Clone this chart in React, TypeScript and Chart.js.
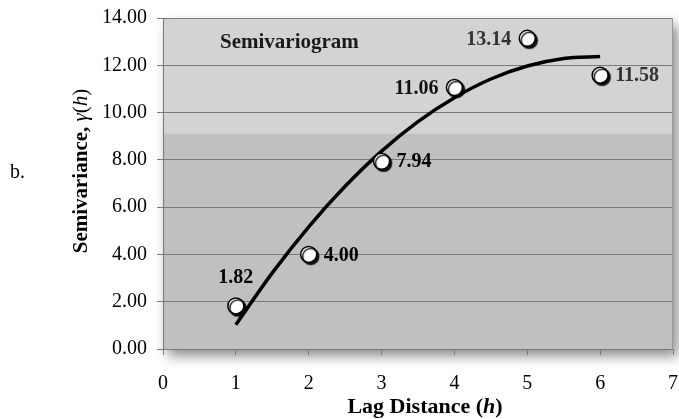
import React, { useEffect, useRef } from "react";
import { Chart, registerables } from "chart.js";

Chart.register(...registerables);

// ---- data ----
const lagDistance = [1, 2, 3, 4, 5, 6];
const semivariance = [1.82, 4.0, 7.94, 11.06, 13.14, 11.58];
const labelSide = ["top", "right", "right", "left", "left", "right"];
const labelColor = ["#000000", "#000000", "#000000", "#111111", "#333333", "#333333"];

// fitted trend curve
const trendLag = [1, 1.5, 2, 2.5, 3, 3.5, 4, 4.5, 5, 5.5, 6];
const trendValue = [1.03, 3.22, 5.17, 6.88, 8.37, 9.62, 10.63, 11.42, 11.97, 12.29, 12.37];

const xMin = 0;
const xMax = 7;
const xStep = 1;
const yMin = 0;
const yMax = 14;
const yStep = 2;
const lightBandFrom = 9.1;

const SERIF = "'Liberation Serif', 'Times New Roman', serif";

function drawSegments(
  ctx: CanvasRenderingContext2D,
  segs: { t: string; f: string }[],
  cx: number,
  y: number
) {
  let total = 0;
  const widths = segs.map((s) => {
    ctx.font = s.f;
    const w = ctx.measureText(s.t).width;
    total += w;
    return w;
  });
  let x = cx - total / 2;
  segs.forEach((s, i) => {
    ctx.font = s.f;
    ctx.fillText(s.t, x, y);
    x += widths[i];
  });
}

const decor = {
  id: "decor",
  beforeDraw(chart: any) {
    const { ctx, chartArea: a, scales } = chart;
    ctx.save();
    ctx.shadowColor = "rgba(0,0,0,0.45)";
    ctx.shadowBlur = 12;
    ctx.shadowOffsetX = 5;
    ctx.shadowOffsetY = 7;
    ctx.fillStyle = "#c0c0c0";
    ctx.fillRect(a.left, a.top, a.right - a.left, a.bottom - a.top);
    ctx.restore();
    const yb = scales.y.getPixelForValue(lightBandFrom);
    ctx.save();
    ctx.fillStyle = "#d3d3d3";
    ctx.fillRect(a.left, a.top, a.right - a.left, yb - a.top);
    ctx.restore();
  },
  beforeDatasetDraw(chart: any, args: any) {
    if (args.index === 0) {
      const ctx = chart.ctx;
      ctx.save();
      ctx.shadowColor = "rgba(0,0,0,0.9)";
      ctx.shadowBlur = 1;
      ctx.shadowOffsetX = 2;
      ctx.shadowOffsetY = 2;
    }
  },
  afterDatasetDraw(chart: any, args: any) {
    if (args.index === 0) chart.ctx.restore();
  },
  afterDraw(chart: any) {
    const { ctx, chartArea: a, scales } = chart;
    ctx.save();
    // right border of plot area
    ctx.strokeStyle = "#9a9a9a";
    ctx.lineWidth = 1;
    ctx.beginPath();
    ctx.moveTo(Math.round(a.right) - 0.5, a.top);
    ctx.lineTo(Math.round(a.right) - 0.5, a.bottom);
    ctx.stroke();

    // data labels
    ctx.font = `bold 20px ${SERIF}`;
    ctx.textBaseline = "middle";
    lagDistance.forEach((lx, i) => {
      const px = scales.x.getPixelForValue(lx);
      const py = scales.y.getPixelForValue(semivariance[i]);
      const txt = semivariance[i].toFixed(2);
      ctx.fillStyle = labelColor[i];
      if (labelSide[i] === "top") {
        ctx.textAlign = "center";
        ctx.fillText(txt, px, py - 28);
      } else if (labelSide[i] === "right") {
        ctx.textAlign = "left";
        ctx.fillText(txt, px + 15, py + 1);
      } else {
        ctx.textAlign = "right";
        ctx.fillText(txt, px - 16, py + 1);
      }
    });

    // inner title
    ctx.textAlign = "left";
    ctx.textBaseline = "alphabetic";
    ctx.fillStyle = "#1a1a1a";
    ctx.font = `bold 21px ${SERIF}`;
    ctx.fillText("Semivariogram", a.left + 57, 48);

    // "b."
    ctx.fillStyle = "#000";
    ctx.font = `20px ${SERIF}`;
    ctx.fillText("b.", 10, 178);

    // x axis title
    ctx.fillStyle = "#000";
    drawSegments(
      ctx,
      [
        { t: "Lag Distance (", f: `bold 22px ${SERIF}` },
        { t: "h", f: `italic bold 22px ${SERIF}` },
        { t: ")", f: `bold 22px ${SERIF}` },
      ],
      425,
      413
    );

    // y axis title
    ctx.translate(87, 171);
    ctx.rotate(-Math.PI / 2);
    drawSegments(
      ctx,
      [
        { t: "Semivariance, ", f: `bold 21px ${SERIF}` },
        { t: "γ", f: `italic 21px ${SERIF}` },
        { t: "(", f: `21px ${SERIF}` },
        { t: "h", f: `italic 21px ${SERIF}` },
        { t: ")", f: `21px ${SERIF}` },
      ],
      0,
      0
    );
    ctx.restore();
  },
};

export default function App() {
  const ref = useRef<HTMLCanvasElement | null>(null);

  useEffect(() => {
    if (!ref.current) return;
    const chart = new Chart(ref.current, {
      type: "scatter",
      data: {
        datasets: [
          {
            label: "Semivariance",
            data: lagDistance.map((x, i) => ({ x, y: semivariance[i] })),
            pointRadius: 8,
            pointHoverRadius: 8,
            pointBackgroundColor: "#ffffff",
            pointBorderColor: "#000000",
            pointBorderWidth: 1.5,
            showLine: false,
            order: 0,
          },
          {
            label: "Trend",
            data: trendLag.map((x, i) => ({ x, y: trendValue[i] })),
            showLine: true,
            pointRadius: 0,
            borderColor: "#000000",
            borderWidth: 3.5,
            cubicInterpolationMode: "monotone",
            order: 1,
          },
        ],
      } as any,
      options: {
        responsive: false,
        animation: false,
        devicePixelRatio: 1,
        layout: { autoPadding: false, padding: { top: 18, right: 6, left: 0, bottom: 0 } },
        plugins: {
          legend: { display: false },
          tooltip: { enabled: false },
          title: { display: false },
        },
        scales: {
          x: {
            type: "linear",
            min: xMin,
            max: xMax,
            ticks: {
              stepSize: xStep,
              color: "#000",
              font: { family: SERIF, size: 20 },
              padding: 17,
              maxRotation: 0,
            },
            grid: {
              drawOnChartArea: false,
              drawTicks: true,
              tickLength: 6,
              color: "#7a7a7a",
            },
            border: { color: "#7a7a7a", width: 1 },
            afterFit: (s: any) => {
              s.height = 70;
              s.paddingLeft = 0;
              s.paddingRight = 0;
            },
          },
          y: {
            type: "linear",
            min: yMin,
            max: yMax,
            ticks: {
              stepSize: yStep,
              color: "#000",
              font: { family: SERIF, size: 20 },
              padding: 10,
              callback: (v: any) => Number(v).toFixed(2),
            },
            grid: {
              color: "#7a7a7a",
              tickLength: 6,
              drawTicks: true,
            },
            border: { color: "#7a7a7a", width: 1 },
            afterFit: (s: any) => {
              s.width = 163;
              s.paddingTop = 0;
              s.paddingBottom = 0;
            },
          },
        },
      } as any,
      plugins: [decor],
    });
    return () => chart.destroy();
  }, []);

  return (
    <div style={{ position: "fixed", left: 0, top: 0, width: 679, height: 419, background: "#fff" }}>
      <canvas ref={ref} width={679} height={419} style={{ display: "block" }} />
    </div>
  );
}
